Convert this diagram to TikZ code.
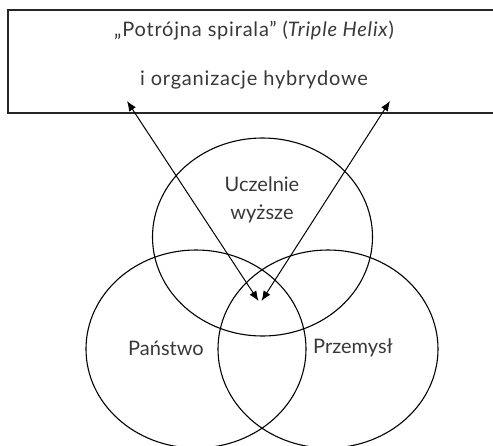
\documentclass[tikz,border=0pt]{standalone}
\usepackage{fontspec}
\setmainfont{Lato}
\usetikzlibrary{shapes.geometric,arrows.meta}
\definecolor{txtgray}{gray}{0.22}
\tikzset{
  boxline/.style={line width=1.6pt, draw=black!85},
  ell/.style={ellipse, draw, line width=1.1pt, minimum width=220pt, minimum height=198pt, inner sep=0pt},
  txt/.style={text=txtgray, font=\fontsize{20}{28}\selectfont, inner sep=0pt, align=center},
  toptxt/.style={text=txtgray, font=\fontsize{20}{28}\selectfont\addfontfeatures{LetterSpace=4}, inner sep=0pt},
  arr/.style={draw, line width=1pt, {Latex[length=10pt,width=8pt]}-{Latex[length=10pt,width=8pt]}}
}
\begin{document}
\begin{tikzpicture}[x=1pt,y=-1pt]
\useasboundingbox (0,0) rectangle (493,445);
\clip (0,0) rectangle (493,445);
% open box (right side runs off the picture)
\draw[boxline] (520,10) -- (8,10) -- (8,113) -- (520,113);
\node[toptxt] (t1) at (254,31) {„Potrójna spirala” (\textit{Triple Helix})};
\node[toptxt] (t2) at (254,80) {i organizacje hybrydowe};
% ellipses
\node[ell] (u) at (262.5,237) {};
\node[ell] (p) at (196,349) {};
\node[ell] (r) at (328,349) {};
% labels
\node[txt] (lu) at (262,200) {Uczelnie\\wyższe};
\node[txt] (lp) at (166,348) {Państwo};
\node[txt] (lr) at (353,348) {Przemysł};
% arrows
\coordinate (a1) at (127,101);
\coordinate (a2) at (390,101);
\coordinate (c1) at (258.5,301);
\coordinate (c2) at (261.5,301);
\draw[arr] (a1) -- (c1);
\draw[arr] (a2) -- (c2);
\end{tikzpicture}
\end{document}
